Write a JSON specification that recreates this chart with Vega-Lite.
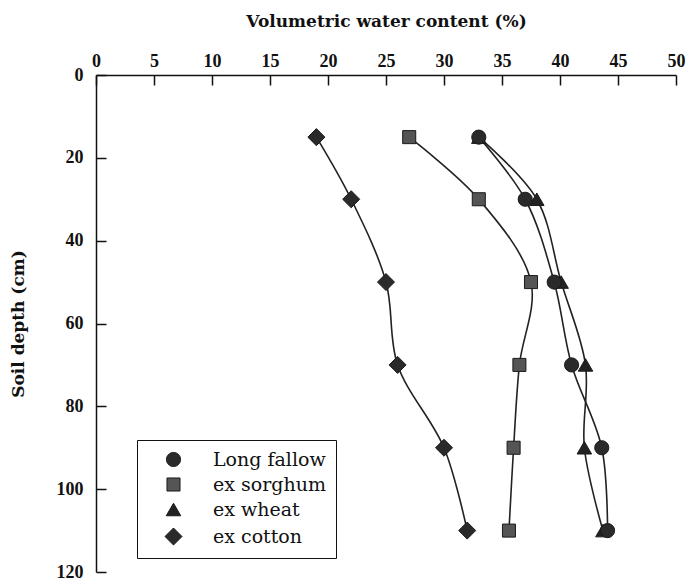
{
  "$schema": "https://vega.github.io/schema/vega-lite/v6.json",
  "width": 580,
  "height": 497,
  "autosize": "none",
  "padding": {"left": 96, "top": 75, "right": 13, "bottom": 13},
  "background": "white",
  "config": {"view": {"stroke": null}, "font": "Liberation Serif"},
  "data": {"values": [
    {"treatment": "ex wheat", "depth": 15, "water": 33},
    {"treatment": "ex wheat", "depth": 30, "water": 38},
    {"treatment": "ex wheat", "depth": 50, "water": 40.1},
    {"treatment": "ex wheat", "depth": 70, "water": 42.2},
    {"treatment": "ex wheat", "depth": 90, "water": 42.1},
    {"treatment": "ex wheat", "depth": 110, "water": 43.7},
    {"treatment": "Long fallow", "depth": 15, "water": 33},
    {"treatment": "Long fallow", "depth": 30, "water": 37},
    {"treatment": "Long fallow", "depth": 50, "water": 39.5},
    {"treatment": "Long fallow", "depth": 70, "water": 41},
    {"treatment": "Long fallow", "depth": 90, "water": 43.6},
    {"treatment": "Long fallow", "depth": 110, "water": 44.1},
    {"treatment": "ex sorghum", "depth": 15, "water": 27},
    {"treatment": "ex sorghum", "depth": 30, "water": 33},
    {"treatment": "ex sorghum", "depth": 50, "water": 37.5},
    {"treatment": "ex sorghum", "depth": 70, "water": 36.5},
    {"treatment": "ex sorghum", "depth": 90, "water": 36},
    {"treatment": "ex sorghum", "depth": 110, "water": 35.6},
    {"treatment": "ex cotton", "depth": 15, "water": 19},
    {"treatment": "ex cotton", "depth": 30, "water": 22},
    {"treatment": "ex cotton", "depth": 50, "water": 25},
    {"treatment": "ex cotton", "depth": 70, "water": 26},
    {"treatment": "ex cotton", "depth": 90, "water": 30},
    {"treatment": "ex cotton", "depth": 110, "water": 32}
  ]},
  "encoding": {
    "x": {
      "field": "water", "type": "quantitative",
      "scale": {"domain": [0, 50], "nice": false, "zero": false},
      "axis": {
        "orient": "top", "title": "Volumetric water content (%)",
        "values": [0, 5, 10, 15, 20, 25, 30, 35, 40, 45, 50],
        "grid": false, "tickSize": -10, "tickColor": "#111", "domainColor": "#111",
        "domainWidth": 1.5, "tickWidth": 1.5,
        "labelFont": "Liberation Serif", "labelFontSize": 18, "labelFontWeight": "bold", "labelColor": "#111",
        "labelPadding": 15, "labelFlush": false,
        "titleFont": "DejaVu Serif", "titleFontSize": 17, "titleFontWeight": "bold", "titleColor": "#111",
        "titlePadding": 22
      }
    },
    "y": {
      "field": "depth", "type": "quantitative",
      "scale": {"domain": [0, 120], "reverse": true, "nice": false, "zero": false},
      "axis": {
        "title": "Soil depth (cm)",
        "values": [0, 20, 40, 60, 80, 100, 120],
        "grid": false, "tickSize": -10, "tickColor": "#111", "domainColor": "#111",
        "domainWidth": 1.5, "tickWidth": 1.5,
        "labelFont": "Liberation Serif", "labelFontSize": 18, "labelFontWeight": "bold", "labelColor": "#111",
        "labelPadding": 23, "labelFlush": false,
        "titleFont": "DejaVu Serif", "titleFontSize": 17, "titleFontWeight": "bold", "titleColor": "#111",
        "titlePadding": 29
      }
    }
  },
  "layer": [
    {
      "mark": {"type": "line", "interpolate": "catmull-rom", "color": "#222", "strokeWidth": 1.6},
      "encoding": {
        "detail": {"field": "treatment", "type": "nominal"},
        "order": {"field": "depth", "type": "quantitative"}
      }
    },
    {
      "mark": {"type": "point", "filled": true, "stroke": "#1a1a1a", "strokeWidth": 1, "opacity": 1},
      "encoding": {
        "shape": {
          "field": "treatment", "type": "ordinal",
          "sort": ["Long fallow", "ex sorghum", "ex wheat", "ex cotton"],
          "scale": {"domain": ["Long fallow", "ex sorghum", "ex wheat", "ex cotton"], "range": ["circle", "square", "triangle-up", "diamond"]},
          "legend": {
            "title": null, "orient": "none", "legendX": 41, "legendY": 365,
            "direction": "vertical",
            "strokeColor": "#111", "padding": 10,
            "labelFont": "DejaVu Serif", "labelFontSize": 19, "labelColor": "#111",
            "symbolStrokeWidth": 1, "rowPadding": 5, "labelOffset": 30,
            "symbolOffset": 17
          }
        },
        "size": {
          "field": "treatment", "type": "ordinal",
          "sort": ["Long fallow", "ex sorghum", "ex wheat", "ex cotton"],
          "scale": {"type": "ordinal", "domain": ["Long fallow", "ex sorghum", "ex wheat", "ex cotton"], "range": [200, 170, 210, 290]}
        },
        "fill": {
          "field": "treatment", "type": "ordinal",
          "sort": ["Long fallow", "ex sorghum", "ex wheat", "ex cotton"],
          "scale": {"type": "ordinal", "domain": ["Long fallow", "ex sorghum", "ex wheat", "ex cotton"], "range": ["#2a2a2a", "#555555", "#222222", "#2a2a2a"]}
        }
      }
    }
  ]
}
